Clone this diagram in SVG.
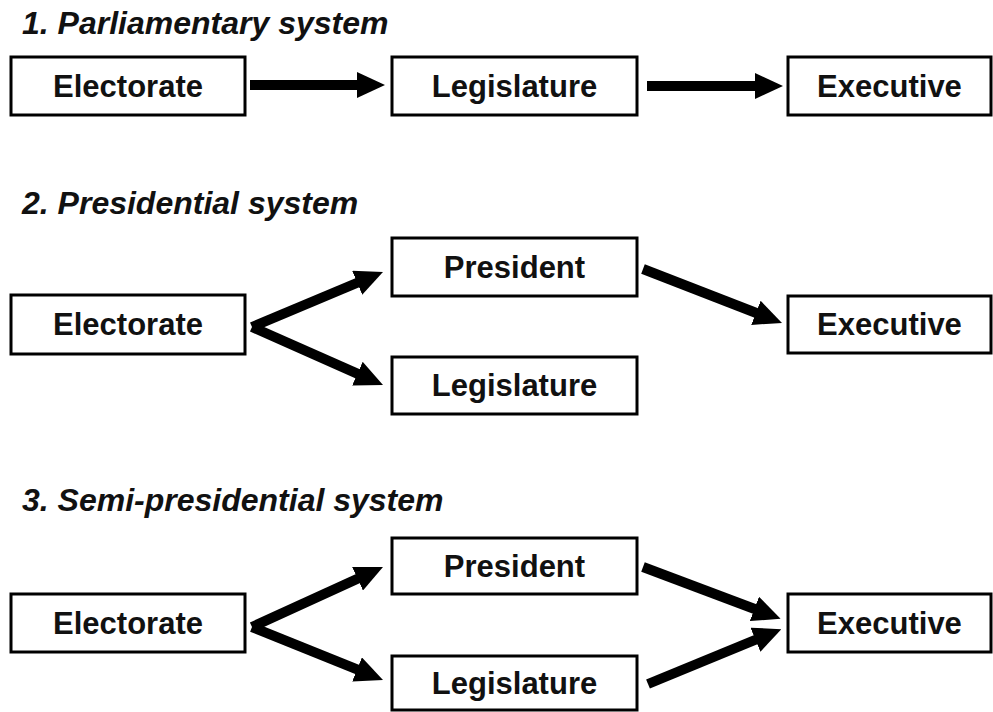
<svg xmlns="http://www.w3.org/2000/svg" width="993" height="712" viewBox="0 0 993 712">
<style>
.box{fill:#fff;stroke:#000;stroke-width:3}
.lbl{font-family:"Liberation Sans",Arial,sans-serif;font-weight:bold;font-size:31px;text-anchor:middle;fill:#111}
.ttl{font-family:"Liberation Sans",Arial,sans-serif;font-weight:bold;font-style:italic;font-size:32px;fill:#111}
.arr{stroke:#000;stroke-width:10;fill:none;marker-end:url(#ah)}
</style>
<defs>
<marker id="ah" markerUnits="userSpaceOnUse" markerWidth="28" markerHeight="26" refX="6" refY="13" orient="auto" viewBox="0 0 28 26">
<path d="M0,0 L28,13 L0,26 z" fill="#000"/>
</marker>
</defs>
<rect width="993" height="712" fill="#fff"/>
<text class="ttl" x="22" y="34">1. Parliamentary system</text>
<text class="ttl" x="22" y="214">2. Presidential system</text>
<text class="ttl" x="22" y="511">3. Semi-presidential system</text>
<g id="n1-electorate"><rect class="box" x="11" y="57" width="234" height="58"/><text class="lbl" x="128" y="96.5">Electorate</text></g>
<g id="n1-legislature"><rect class="box" x="392" y="57" width="245" height="58"/><text class="lbl" x="514.5" y="96.5">Legislature</text></g>
<g id="n1-executive"><rect class="box" x="788" y="57" width="203" height="58"/><text class="lbl" x="889.5" y="96.5">Executive</text></g>
<g id="n2-electorate"><rect class="box" x="11" y="295" width="234" height="59"/><text class="lbl" x="128" y="335">Electorate</text></g>
<g id="n2-president"><rect class="box" x="392" y="238" width="245" height="58"/><text class="lbl" x="514.5" y="277.5">President</text></g>
<g id="n2-legislature"><rect class="box" x="392" y="357" width="245" height="57"/><text class="lbl" x="514.5" y="396">Legislature</text></g>
<g id="n2-executive"><rect class="box" x="788" y="296" width="203" height="57"/><text class="lbl" x="889.5" y="335">Executive</text></g>
<g id="n3-electorate"><rect class="box" x="11" y="594" width="234" height="58"/><text class="lbl" x="128" y="633.5">Electorate</text></g>
<g id="n3-president"><rect class="box" x="392" y="538" width="245" height="56"/><text class="lbl" x="514.5" y="576.5">President</text></g>
<g id="n3-legislature"><rect class="box" x="392" y="656" width="245" height="54"/><text class="lbl" x="514.5" y="693.5">Legislature</text></g>
<g id="n3-executive"><rect class="box" x="788" y="594" width="203" height="58"/><text class="lbl" x="889.5" y="633.5">Executive</text></g>
<g id="connectors">
<line class="arr" x1="250" y1="85" x2="363" y2="85"/>
<line class="arr" x1="647" y1="86" x2="761" y2="86"/>
<line class="arr" x1="252" y1="327" x2="362.7" y2="280.5"/>
<line class="arr" x1="252" y1="327" x2="362.9" y2="376.1"/>
<line class="arr" x1="643" y1="269" x2="761.5" y2="315"/>
<line class="arr" x1="252" y1="627" x2="363" y2="576.2"/>
<line class="arr" x1="252" y1="627" x2="362.6" y2="671.7"/>
<line class="arr" x1="643" y1="567" x2="760" y2="611"/>
<line class="arr" x1="648" y1="684" x2="761" y2="637.5"/>
</g>
</svg>
